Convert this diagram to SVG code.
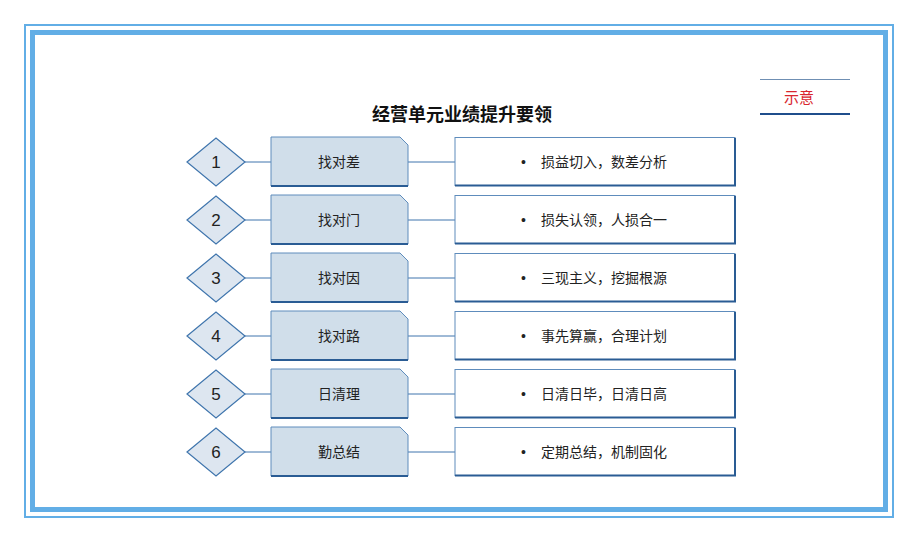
<svg xmlns="http://www.w3.org/2000/svg" width="918" height="542" viewBox="0 0 918 542">
<style>
.cn{font-family:"Liberation Sans","Noto Sans CJK SC",sans-serif;}
.dia{fill:#DDE6F0;stroke:#3F75AD;stroke-width:1.2}
.box{fill:#D0DEEA;stroke:#5E8CBC;stroke-width:1}
.shadow{fill:none;stroke:#2A5C94;stroke-width:2}
.tbox{fill:#fff;stroke:#5E8CBC;stroke-width:1}
.con{stroke:#3F75AD;stroke-width:1;fill:none}
.num{font-size:17px;fill:#222;text-anchor:middle}
.lbl{font-size:14px;fill:#222;text-anchor:middle}
.desc{font-size:14px;fill:#222}
</style>
<rect x="0" y="0" width="918" height="542" fill="#fff"/>
<rect x="25" y="25" width="868" height="492" fill="none" stroke="#62AEE6" stroke-width="2"/>
<rect x="32.5" y="32.5" width="853" height="477" fill="none" stroke="#62AEE6" stroke-width="5"/>
<text x="462" y="121" class="cn" font-size="18" font-weight="bold" fill="#111" text-anchor="middle">经营单元业绩提升要领</text>
<g id="legend">
<line x1="760" y1="79.5" x2="850" y2="79.5" stroke="#6F8FB3" stroke-width="1.2"/>
<line x1="760" y1="114" x2="850" y2="114" stroke="#1F4E8C" stroke-width="2"/>
<text x="799" y="103" class="cn" font-size="15" fill="#D9262E" text-anchor="middle">示意</text>
</g>
<g id="connectors">
<line class="con" x1="245" y1="162" x2="271" y2="162"/><line class="con" x1="408" y1="162" x2="455" y2="162"/>
<line class="con" x1="245" y1="220" x2="271" y2="220"/><line class="con" x1="408" y1="220" x2="455" y2="220"/>
<line class="con" x1="245" y1="278" x2="271" y2="278"/><line class="con" x1="408" y1="278" x2="455" y2="278"/>
<line class="con" x1="245" y1="336" x2="271" y2="336"/><line class="con" x1="408" y1="336" x2="455" y2="336"/>
<line class="con" x1="245" y1="394" x2="271" y2="394"/><line class="con" x1="408" y1="394" x2="455" y2="394"/>
<line class="con" x1="245" y1="452" x2="271" y2="452"/><line class="con" x1="408" y1="452" x2="455" y2="452"/>
</g>
<defs>
<g id="row">
<polygon class="dia" points="187,0 216,-24 245,0 216,24"/>
<path class="box" d="M271,-25 H400 L408,-17 V24 H271 Z"/>
<line class="shadow" x1="271" y1="24" x2="408" y2="24"/>
<rect class="tbox" x="455" y="-24.5" width="280" height="48"/>
<path class="shadow" d="M735,-24 V23.5 H455"/>
</g>
</defs>
<g id="row1"><use href="#row" y="162"/><text class="cn num" x="216" y="168">1</text><text class="cn lbl" x="339" y="167">找对差</text><text class="cn desc" x="521" y="167">•</text><text class="cn desc" x="541" y="167">损益切入，数差分析</text></g>
<g id="row2"><use href="#row" y="220"/><text class="cn num" x="216" y="226">2</text><text class="cn lbl" x="339" y="225">找对门</text><text class="cn desc" x="521" y="225">•</text><text class="cn desc" x="541" y="225">损失认领，人损合一</text></g>
<g id="row3"><use href="#row" y="278"/><text class="cn num" x="216" y="284">3</text><text class="cn lbl" x="339" y="283">找对因</text><text class="cn desc" x="521" y="283">•</text><text class="cn desc" x="541" y="283">三现主义，挖掘根源</text></g>
<g id="row4"><use href="#row" y="336"/><text class="cn num" x="216" y="342">4</text><text class="cn lbl" x="339" y="341">找对路</text><text class="cn desc" x="521" y="341">•</text><text class="cn desc" x="541" y="341">事先算赢，合理计划</text></g>
<g id="row5"><use href="#row" y="394"/><text class="cn num" x="216" y="400">5</text><text class="cn lbl" x="339" y="399">日清理</text><text class="cn desc" x="521" y="399">•</text><text class="cn desc" x="541" y="399">日清日毕，日清日高</text></g>
<g id="row6"><use href="#row" y="452"/><text class="cn num" x="216" y="458">6</text><text class="cn lbl" x="339" y="457">勤总结</text><text class="cn desc" x="521" y="457">•</text><text class="cn desc" x="541" y="457">定期总结，机制固化</text></g>
</svg>
